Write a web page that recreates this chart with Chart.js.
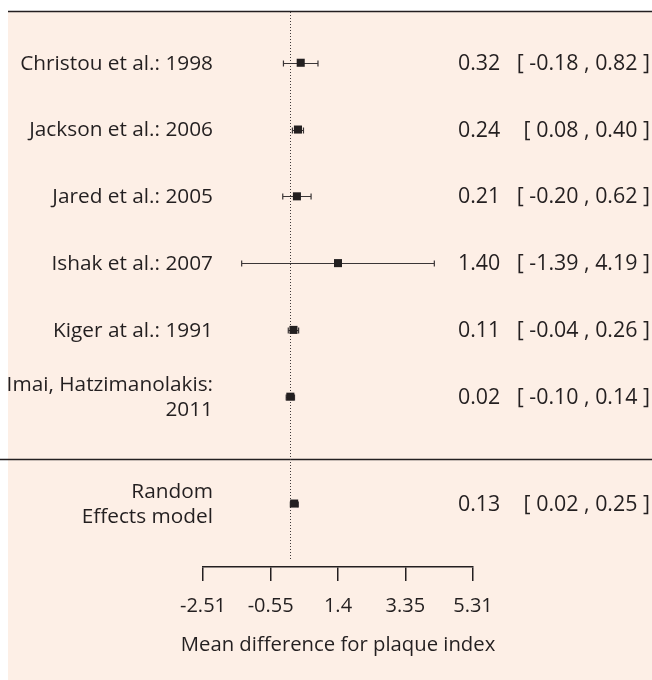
<!DOCTYPE html>
<html>
<head>
<meta charset="utf-8">
<script src="https://cdn.jsdelivr.net/npm/chart.js@4.4.0/dist/chart.umd.min.js"></script>
<style>
html, body { margin: 0; padding: 0; background: #fff; }
</style>
</head>
<body>
<canvas id="canvas" width="652" height="680"></canvas>
<script>
// forest plot data
var studies = ['Christou et al.: 1998', 'Jackson et al.: 2006', 'Jared et al.: 2005', 'Ishak et al.: 2007',
    'Kiger at al.: 1991', ['Imai, Hatzimanolakis:', '2011'], ['Random', 'Effects model']];
var rows = [1, 2, 3, 4, 5, 6, 7.6];
var means = [0.32, 0.24, 0.21, 1.40, 0.11, 0.02, 0.13];
var lower = [-0.18, 0.08, -0.20, -1.39, -0.04, -0.10, 0.02];
var upper = [0.82, 0.40, 0.62, 4.19, 0.26, 0.14, 0.25];
var xTicks = [-2.51, -0.55, 1.4, 3.35, 5.31];
var xTickLabels = ['-2.51', '-0.55', '1.4', '3.35', '5.31'];
var xTitle = 'Mean difference for plaque index';

var ink = '#231f20';
var fontFam = '"Open Sans"';
var separatorRow = 6.93;

function fmt(v) {
    return v.toFixed(2);
}

var forestPlugin = {
    id: 'forest',
    beforeDraw: function (chart) {
        var ctx = chart.ctx;
        ctx.save();
        ctx.fillStyle = '#fff';
        ctx.fillRect(0, 0, chart.width, chart.height);
        ctx.fillStyle = '#fdefe6';
        ctx.fillRect(8, 11, chart.width - 8, chart.height - 11);
        ctx.restore();
    },
    beforeDatasetsDraw: function (chart) {
        var ctx = chart.ctx;
        var xs = chart.scales.x, ys = chart.scales.y;
        var area = chart.chartArea;
        ctx.save();
        // top rule and separator
        ctx.strokeStyle = ink;
        ctx.lineWidth = 1.5;
        ctx.beginPath();
        ctx.moveTo(8, area.top - 0.5);
        ctx.lineTo(chart.width, area.top - 0.5);
        var sy = Math.round(ys.getPixelForValue(separatorRow)) + 0.5;
        ctx.moveTo(0, sy);
        ctx.lineTo(chart.width, sy);
        ctx.stroke();
        // dotted zero line
        var zx = Math.round(xs.getPixelForValue(0)) + 0.5;
        ctx.strokeStyle = '#3f3a3b';
        ctx.lineWidth = 1;
        ctx.setLineDash([1, 2]);
        ctx.beginPath();
        ctx.moveTo(zx, area.top);
        ctx.lineTo(zx, area.bottom - 7);
        ctx.stroke();
        ctx.setLineDash([]);
        // confidence intervals
        ctx.strokeStyle = '#3a3536';
        ctx.lineWidth = 1.2;
        for (var i = 0; i < rows.length; i++) {
            var y = Math.round(ys.getPixelForValue(rows[i])) + 0.5;
            var x1 = xs.getPixelForValue(lower[i]);
            var x2 = xs.getPixelForValue(upper[i]);
            ctx.beginPath();
            ctx.moveTo(x1, y);
            ctx.lineTo(x2, y);
            ctx.moveTo(x1, y - 3);
            ctx.lineTo(x1, y + 3);
            ctx.moveTo(x2, y - 3);
            ctx.lineTo(x2, y + 3);
            ctx.stroke();
        }
        ctx.restore();
    },
    afterDraw: function (chart) {
        var ctx = chart.ctx;
        var ys = chart.scales.y;
        var area = chart.chartArea;
        ctx.save();
        ctx.fillStyle = ink;
        ctx.textBaseline = 'middle';
        for (var i = 0; i < rows.length; i++) {
            var y = ys.getPixelForValue(rows[i]) + 1;
            var lines = Array.isArray(studies[i]) ? studies[i] : [studies[i]];
            ctx.font = '20.8px ' + fontFam;
            ctx.textAlign = 'right';
            for (var j = 0; j < lines.length; j++) {
                ctx.fillText(lines[j], 213, y + (j - (lines.length - 1) / 2) * 25);
            }
            ctx.font = '21.4px ' + fontFam;
            ctx.textAlign = 'left';
            ctx.fillText(fmt(means[i]), 458, y);
            ctx.textAlign = 'right';
            ctx.fillText('[ ' + fmt(lower[i]) + ' , ' + fmt(upper[i]) + ' ]', 650, y);
        }
        // axis title, drawn here so it is not squeezed to the axis width
        ctx.font = '20.3px ' + fontFam;
        ctx.textAlign = 'center';
        ctx.fillText(xTitle, (area.left + area.right) / 2, 645);
        ctx.restore();
    }
};

var ctx = document.getElementById('canvas');
var myChart = new Chart(ctx, {
    type: 'scatter',
    data: {
        datasets: [{
            label: 'Mean difference',
            data: means.map(function (m, i) { return { x: m, y: rows[i] }; }),
            pointStyle: 'rect',
            pointRadius: 5.7,
            pointHoverRadius: 5.7,
            backgroundColor: ink,
            borderWidth: 0
        }]
    },
    options: {
        responsive: false,
        animation: false,
        events: [],
        layout: {
            padding: { left: 203, right: 179, top: 12, bottom: 0 }
        },
        plugins: {
            legend: { display: false },
            tooltip: { enabled: false }
        },
        scales: {
            x: {
                type: 'linear',
                min: -2.51,
                max: 5.31,
                afterBuildTicks: function (axis) {
                    axis.ticks = xTicks.map(function (v) { return { value: v }; });
                },
                afterFit: function (axis) {
                    axis.height = 113;
                },
                ticks: {
                    color: ink,
                    padding: 13,
                    font: { family: 'Open Sans', size: 20 },
                    callback: function (value, index) {
                        return xTickLabels[index];
                    }
                },
                grid: {
                    drawOnChartArea: false,
                    drawTicks: true,
                    tickLength: 14,
                    color: ink,
                    lineWidth: 1.5
                },
                border: { display: true, color: ink, width: 1.5 },
                title: { display: false }
            },
            y: {
                type: 'linear',
                display: false,
                reverse: true,
                min: 0.24,
                max: 8.55
            }
        }
    },
    plugins: [forestPlugin]
});
</script>
</body>
</html>
